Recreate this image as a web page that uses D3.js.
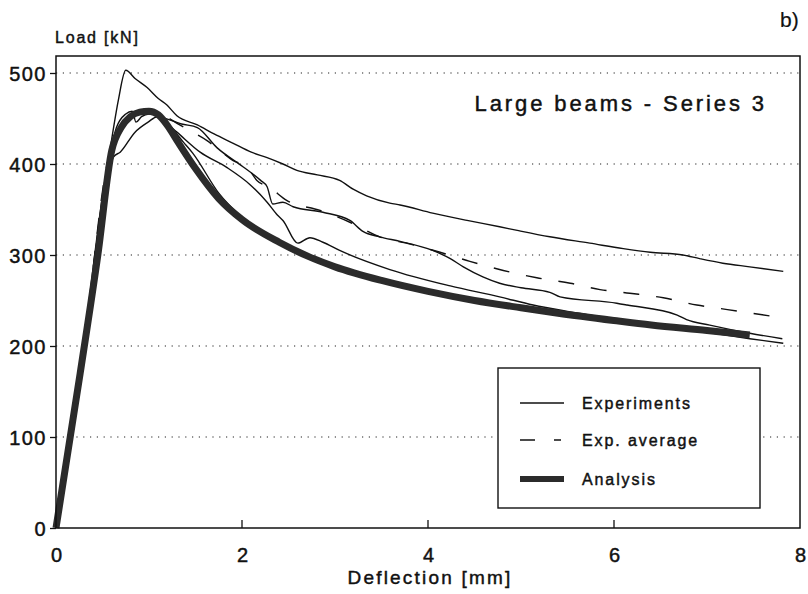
<!DOCTYPE html>
<html>
<head>
<meta charset="utf-8">
<script src="https://cdn.jsdelivr.net/npm/d3@7"></script>
<style>
  body { margin: 0; background: #fff; }
  text { font-family: "Liberation Sans", Arial, sans-serif; fill: #111; stroke: #111; stroke-width: 0.45px; }
</style>
</head>
<body>
<div id="chart"></div>
<script>
// Values (deflection mm, load kN)
const xTicks = [0, 2, 4, 6, 8];
const yTicks = [0, 100, 200, 300, 400, 500];
const gridLoads = [100, 200, 300, 400, 500];

const exp1 = [[0,0],[0.3,205],[0.5,365],[0.6,428],[0.67,470],[0.75,503],[0.85,494],[0.98,484],[1.1,472],[1.19,465],[1.3,453],[1.52,443],[1.7,433],[1.9,423],[2.1,413],[2.27,407],[2.44,400],[2.59,393],[2.81,388],[3.05,382],[3.2,372],[3.34,365],[3.59,357],[3.7,355],[4.05,346],[4.42,338],[4.77,331],[4.96,327],[5.31,320],[5.74,313],[6.1,307],[6.39,303],[6.74,300],[6.92,296],[7.17,291],[7.46,287],[7.82,282]];
const exp2 = [[0,0],[0.3,195],[0.55,385],[0.62,408],[0.69,413],[0.85,435],[0.99,446],[1.09,452],[1.15,448],[1.3,435],[1.55,413],[1.84,396],[2.09,377],[2.27,358],[2.38,344],[2.44,338],[2.6,313],[2.73,319],[2.87,314],[3.05,305],[3.59,284],[4.24,266],[4.77,254],[5.13,245],[5.5,238],[6.0,230],[6.5,222],[7.0,215],[7.46,208],[7.82,203]];
const exp3 = [[0,0],[0.3,200],[0.55,395],[0.65,440],[0.75,455],[0.82,458],[0.86,446],[0.92,452],[1.0,455],[1.15,451],[1.35,444],[1.52,440],[1.73,418],[2.01,397],[2.2,382],[2.27,375],[2.33,356],[2.44,358],[2.55,353],[2.87,347],[3.16,338],[3.3,326],[3.48,320],[3.7,315],[4.05,305],[4.24,296],[4.38,287],[4.59,276],[4.77,269],[5.0,264],[5.31,259],[5.42,254],[6.03,247],[6.14,245],[6.68,234],[6.78,229],[7.03,223],[7.46,214],[7.81,208]];
const exp4 = [[0,0],[0.3,190],[0.55,380],[0.65,430],[0.78,448],[0.9,456],[1.05,458],[1.15,450],[1.37,424],[1.47,412],[1.75,368],[2.0,341]];
const expAvg = [[0,0],[0.3,200],[0.55,400],[0.7,440],[0.9,455],[1.05,457],[1.33,443],[1.47,435],[1.62,426],[1.76,415],[1.9,404],[2.05,397],[2.16,382],[2.3,374],[2.48,360],[2.84,349],[3.16,336],[3.48,320],[3.81,312],[4.13,303],[4.45,293],[4.81,283],[5.17,275],[5.53,269],[5.85,262],[6.17,258],[6.53,253],[6.89,245],[7.22,240],[7.68,233]];
const analysis = [[0,0],[0.26,170],[0.45,300],[0.6,415],[0.7,440],[0.8,452],[0.9,457],[1.0,458],[1.1,454],[1.2,442],[1.3,426],[1.5,395],[1.75,362],[2.0,339],[2.4,314],[2.7,299],[3.0,287],[3.5,272],[4.0,260],[4.5,250],[5.0,242],[5.4,236],[6.0,228],[6.4,223],[7.0,217],[7.46,212]];

const legendNames = ["Experiments", "Exp. average", "Analysis"];

const width = 808, height = 594;
const plot = {left: 56, right: 800, top: 56, bottom: 528};

const svg = d3.select("#chart")
  .append("svg")
  .attr("width", width)
  .attr("height", height);

const x = d3.scaleLinear().domain([0, 8]).range([plot.left, plot.right]);
const y = d3.scaleLinear().domain([0, 500]).range([plot.bottom, 73]);

// dotted grid
svg.selectAll(".grid")
  .data(gridLoads)
  .enter().append("line")
  .attr("x1", plot.left).attr("x2", plot.right)
  .attr("y1", d => y(d)).attr("y2", d => y(d))
  .attr("stroke", "#222")
  .attr("stroke-width", 1.2)
  .attr("stroke-dasharray", "1.2,5.6");

// y axis (outer ticks, labels)
const yAxis = svg.append("g")
  .attr("transform", "translate(" + plot.left + ",0)")
  .call(d3.axisLeft(y).tickValues(yTicks).tickSize(6).tickPadding(3).tickFormat(d3.format("d")));
yAxis.select(".domain").remove();
yAxis.selectAll("line").attr("stroke", "#111").attr("stroke-width", 1.3);
yAxis.selectAll("text")
  .style("font-family", "Liberation Sans, Arial, sans-serif")
  .style("font-size", "20px")
  .style("letter-spacing", "1.5px")
  .attr("fill", "#111")
  .attr("dy", "0.36em");

// x axis (inner ticks)
const xAxis = svg.append("g")
  .attr("transform", "translate(0," + plot.bottom + ")")
  .call(d3.axisBottom(x).tickValues(xTicks).tickSize(0).tickPadding(20).tickFormat(d3.format("d")));
xAxis.select(".domain").remove();
xAxis.selectAll("text")
  .style("font-family", "Liberation Sans, Arial, sans-serif")
  .style("font-size", "20px")
  .attr("fill", "#111");
svg.selectAll(".xtick")
  .data(xTicks.slice(1, -1))
  .enter().append("line")
  .attr("x1", d => x(d)).attr("x2", d => x(d))
  .attr("y1", plot.bottom).attr("y2", plot.bottom - 8)
  .attr("stroke", "#111").attr("stroke-width", 1.3);

// curves
const line = d3.line()
  .x(d => x(d[0]))
  .y(d => y(d[1]))
  .curve(d3.curveMonotoneX);

[exp1, exp2, exp3, exp4].forEach(s => {
  svg.append("path")
    .attr("d", line(s))
    .attr("fill", "none")
    .attr("stroke", "#111")
    .attr("stroke-width", 1.4)
    .attr("stroke-linejoin", "round");
});

svg.append("path")
  .attr("d", line(expAvg))
  .attr("fill", "none")
  .attr("stroke", "#111")
  .attr("stroke-width", 1.4)
  .attr("stroke-dasharray", "16,17");

svg.append("path")
  .attr("d", line(analysis))
  .attr("fill", "none")
  .attr("stroke", "#2b2b2b")
  .attr("stroke-width", 7)
  .attr("stroke-linejoin", "round");

// frame
svg.append("rect")
  .attr("x", plot.left).attr("y", plot.top)
  .attr("width", plot.right - plot.left)
  .attr("height", plot.bottom - plot.top)
  .attr("fill", "none")
  .attr("stroke", "#111")
  .attr("stroke-width", 1.5);

// labels
svg.append("text")
  .attr("x", 55).attr("y", 43)
  .style("font-size", "16px")
  .style("letter-spacing", "1.8px")
  .text("Load [kN]");

svg.append("text")
  .attr("x", 430).attr("y", 584)
  .attr("text-anchor", "middle")
  .style("font-size", "19px")
  .style("letter-spacing", "2.2px")
  .text("Deflection [mm]");

svg.append("text")
  .attr("x", 767).attr("y", 111)
  .attr("text-anchor", "end")
  .style("font-size", "22px")
  .style("letter-spacing", "2.9px")
  .text("Large beams - Series 3");

svg.append("text")
  .attr("x", 780).attr("y", 27)
  .style("font-size", "21px")
  .style("stroke-width", "0.2px")
  .text("b)");

// legend
const legend = svg.append("g");
legend.append("rect")
  .attr("x", 498).attr("y", 368)
  .attr("width", 262).attr("height", 140)
  .attr("fill", "#fff")
  .attr("stroke", "#111")
  .attr("stroke-width", 1.4);

const rowY = [403, 440, 479];
legend.append("line")
  .attr("x1", 520).attr("x2", 564).attr("y1", rowY[0]).attr("y2", rowY[0])
  .attr("stroke", "#111").attr("stroke-width", 1.4);
legend.append("line")
  .attr("x1", 520).attr("x2", 561).attr("y1", rowY[1]).attr("y2", rowY[1])
  .attr("stroke", "#111").attr("stroke-width", 1.4)
  .attr("stroke-dasharray", "15,19");
legend.append("line")
  .attr("x1", 520).attr("x2", 564).attr("y1", rowY[2]).attr("y2", rowY[2])
  .attr("stroke", "#2b2b2b").attr("stroke-width", 6);

legend.selectAll(".ltext")
  .data(legendNames)
  .enter().append("text")
  .attr("x", 582)
  .attr("y", (d, i) => rowY[i] + 6)
  .style("font-size", "16px")
  .style("letter-spacing", "1.9px")
  .text(d => d);
</script>
</body>
</html>
